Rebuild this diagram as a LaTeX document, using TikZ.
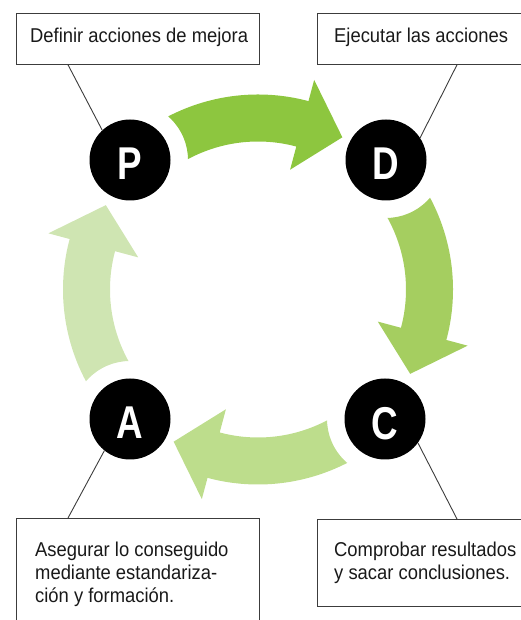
\documentclass[tikz,border=0pt]{standalone}
\usepackage{fontspec}
\setmainfont{Liberation Sans}[FakeStretch=0.92]
\newfontfamily\bigletterfont{Liberation Sans}[FakeStretch=0.8]
\definecolor{arrowone}{RGB}{141,198,63}
\definecolor{arrowtwo}{RGB}{165,206,96}
\definecolor{arrowthree}{RGB}{189,221,140}
\definecolor{arrowfour}{RGB}{207,229,178}
\definecolor{linegray}{RGB}{60,60,60}
\definecolor{textgray}{RGB}{25,25,25}
\newcommand\cyclearrow[3]{%
  \begin{scope}[even odd rule]
    \clip (-20,-20) rectangle (560,660) (#3) circle (58);
    \begin{scope}[shift={(258,330.5)}]
      \fill[#2] (#1+42:195) arc[start angle=#1+42, end angle=#1-15, radius=195]
        -- (#1-15:217) -- (#1-29:174) -- (#1-15:124) -- (#1-15:148)
        arc[start angle=#1-15, end angle=#1+42, radius=148] -- cycle;
    \end{scope}
  \end{scope}}
\begin{document}
\begin{tikzpicture}[x=1pt,y=1pt,
  stage/.style={circle, fill=black, minimum size=81pt, inner sep=0pt},
  letter/.style={text=white, font=\bigletterfont\bfseries\fontsize{46}{46}\selectfont, inner sep=0pt, anchor=base},
  infobox/.style={draw=linegray, line width=0.8pt, rectangle, inner sep=0pt, anchor=north west},
  infotext/.style={text=textgray, font=\fontsize{20}{23}\selectfont, inner sep=0pt, anchor=base west, align=left},
  leader/.style={draw=linegray, line width=0.9pt}]
\useasboundingbox (0,0) rectangle (521,620);
% stage circles
\node[stage] (P) at (130,460) {};
\node[stage] (D) at (386,460) {};
\node[stage] (A) at (130,201) {};
\node[stage] (C) at (385,201) {};
\node[letter] (Pl) at ([yshift=-20pt]P.center) {P};
\node[letter] (Dl) at ([yshift=-20pt]D.center) {D};
\node[letter] (Al) at ([yshift=-20pt]A.center) {A};
\node[letter] (Cl) at ([yshift=-21pt]C.center) {C};
% arrows
\cyclearrow{90}{arrowone}{P.center}
\cyclearrow{0}{arrowtwo}{D.center}
\cyclearrow{-90}{arrowthree}{C.center}
\cyclearrow{180}{arrowfour}{A.center}
% boxes
\node[infobox, minimum width=243pt, minimum height=51pt] (pbox) at (16,607) {};
\node[infobox, minimum width=203.5pt, minimum height=51pt] (dbox) at (317,607) {};
\node[infobox, minimum width=243pt, minimum height=120pt] (abox) at (16,102) {};
\node[infobox, minimum width=230pt, minimum height=87pt] (cbox) at (317,101) {};
\node[infotext] (ptext) at (30,577) {Definir acciones de mejora};
\node[infotext] (dtext) at (334,577) {Ejecutar las acciones};
\node[infotext] (atext) at (35,63) {\parbox[t]{230pt}{\raggedright\baselineskip=23pt Asegurar lo conseguido\\mediante estandariza-\\ción y formación.}};
\node[infotext] (ctext) at (334,63) {\parbox[t]{230pt}{\raggedright\baselineskip=23pt Comprobar resultados\\y sacar conclusiones.}};
% leader lines
\draw[leader] ([xshift=52pt]pbox.south west) -- (P.133);
\draw[leader] ([xshift=140pt]dbox.south west) -- (D.33);
\draw[leader] ([xshift=52pt]abox.north west) -- (A.231);
\draw[leader] ([xshift=140pt]cbox.north west) -- (C.-36);
\end{tikzpicture}
\end{document}
